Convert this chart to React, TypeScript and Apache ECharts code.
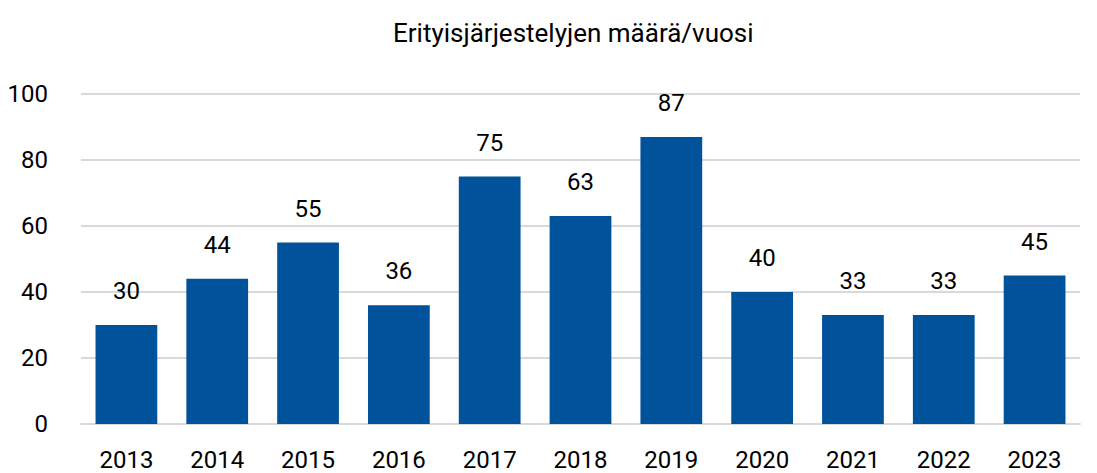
import React, { useEffect, useRef } from "react";
import * as echarts from "echarts";

const years = ["2013", "2014", "2015", "2016", "2017", "2018", "2019", "2020", "2021", "2022", "2023"];
const counts = [30, 44, 55, 36, 75, 63, 87, 40, 33, 33, 45];
const titleText = "Erityisjärjestelyjen määrä/vuosi";

export default function App() {
  const ref = useRef<HTMLDivElement>(null);
  useEffect(() => {
    document.body.style.margin = "0";
    const chart = echarts.init(ref.current!, null, { renderer: "svg" });
    const font = "Roboto, 'DejaVu Sans', sans-serif";
    chart.setOption({
      animation: false,
      backgroundColor: "#ffffff",
      title: {
        text: titleText,
        left: 388,
        top: 15,
        textStyle: { fontFamily: font, fontSize: 26, fontWeight: "normal", color: "#000000" },
      },
      grid: { left: 81, right: 17, top: 94, bottom: 49, containLabel: false },
      xAxis: {
        type: "category",
        data: years,
        axisLine: { show: true, lineStyle: { color: "#d9d9d9", width: 2 } },
        axisTick: { show: false },
        axisLabel: { fontFamily: font, fontSize: 24, color: "#000000", margin: 24 },
      },
      yAxis: {
        type: "value",
        min: 0,
        max: 100,
        interval: 20,
        axisLine: { show: false },
        axisTick: { show: false },
        splitLine: { lineStyle: { color: "#d9d9d9", width: 2 } },
        axisLabel: { fontFamily: font, fontSize: 24, color: "#000000", margin: 33 },
      },
      series: [
        {
          type: "bar",
          data: counts,
          barWidth: "68%",
          itemStyle: { color: "#00529b" },
          label: {
            show: true,
            position: "top",
            distance: 22,
            fontFamily: font,
            fontSize: 24,
            color: "#000000",
          },
        },
      ],
    });
    return () => chart.dispose();
  }, []);
  return <div ref={ref} style={{ width: 1097, height: 473 }} />;
}
